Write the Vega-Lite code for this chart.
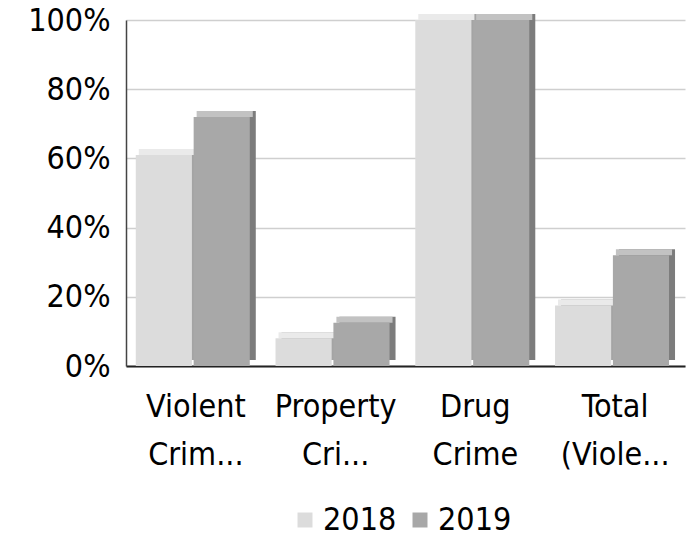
{
  "$schema": "https://vega.github.io/schema/vega-lite/v6.json",
  "width": 559,
  "height": 346,
  "autosize": "none",
  "padding": {"left": 126, "top": 20, "right": 14, "bottom": 179},
  "background": "white",
  "data": {"values": [
    {"cat": "Violent Crim...", "year": "2018", "value": 0.61},
    {"cat": "Violent Crim...", "year": "2019", "value": 0.72},
    {"cat": "Property Cri...", "year": "2018", "value": 0.08},
    {"cat": "Property Cri...", "year": "2019", "value": 0.125},
    {"cat": "Drug Crime", "year": "2018", "value": 1.0},
    {"cat": "Drug Crime", "year": "2019", "value": 1.0},
    {"cat": "Total (Viole...", "year": "2018", "value": 0.175},
    {"cat": "Total (Viole...", "year": "2019", "value": 0.32}
  ]},
  "encoding": {
    "x": {"field": "cat", "type": "nominal", "sort": null,
      "scale": {"paddingInner": 0.14, "paddingOuter": 0.07},
      "axis": {"title": null, "labelAngle": 0, "labelExpr": "split(datum.label, ' ')",
        "labelFont": "DejaVu Sans Condensed", "labelFontSize": 32, "labelColor": "#000",
        "labelLineHeight": 48, "labelPadding": 25, "ticks": false,
        "domainColor": "#222", "domainWidth": 2}},
    "y": {"field": "value", "type": "quantitative",
      "scale": {"domain": [0, 1]},
      "axis": {"title": null, "format": ".0%", "values": [0, 0.2, 0.4, 0.6, 0.8, 1],
        "labelFont": "DejaVu Sans Condensed", "labelFontSize": 32, "labelColor": "#000",
        "labelPadding": 16, "ticks": false, "domainColor": "#444", "domainWidth": 1.5,
        "gridColor": "#cfcfcf", "gridWidth": 1.5}}
  },
  "layer": [
    {"mark": {"type": "bar", "yOffset": -6},
     "encoding": {
       "xOffset": {"field": "year", "type": "nominal", "scale": {"paddingInner": 0.03, "range": [6, 120]}},
       "fill": {"condition": {"test": "datum.year == '2018'", "value": "#a4a4a4"}, "value": "#7c7c7c"}}},
    {"mark": {"type": "bar", "yOffset": -6, "y2Offset": 0},
     "encoding": {
       "xOffset": {"field": "year", "type": "nominal", "scale": {"paddingInner": 0.03, "range": [3, 117]}},
       "y2": {"field": "value"},
       "fill": {"condition": {"test": "datum.year == '2018'", "value": "#eaeaea"}, "value": "#c2c2c2"}}},
    {"mark": {"type": "bar"},
     "encoding": {
       "xOffset": {"field": "year", "type": "nominal", "scale": {"paddingInner": 0.03, "range": [0, 114]}},
       "color": {"field": "year", "type": "nominal",
         "scale": {"domain": ["2018", "2019"], "range": ["#dcdcdc", "#a8a8a8"]},
         "legend": {"title": null, "orient": "none", "legendX": 163, "legendY": 484,
           "direction": "horizontal",
           "symbolType": "square", "symbolSize": 225, "symbolStrokeWidth": 0,
           "labelFont": "DejaVu Sans Condensed", "labelFontSize": 32, "labelColor": "#000",
           "columnPadding": 7, "labelOffset": 2}}}}
  ],
  "resolve": {"scale": {"xOffset": "independent"}},
  "config": {"view": {"stroke": null}}
}
